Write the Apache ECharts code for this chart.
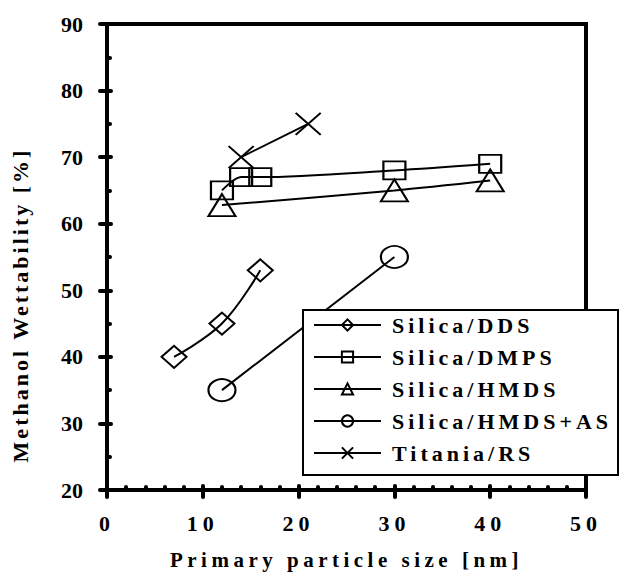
<!DOCTYPE html>
<html><head><meta charset="utf-8">
<script src="https://cdn.jsdelivr.net/npm/echarts@6/dist/echarts.min.js"></script>
<style>html,body{margin:0;padding:0;background:#fff}#c{width:621px;height:575px}</style>
</head><body><div id="c"></div>
<script>
// ---- data ----
const seriesNames = ['Silica/DDS', 'Silica/DMPS', 'Silica/HMDS', 'Silica/HMDS+AS', 'Titania/RS'];
const ddsX = [7, 12, 16];
const ddsY = [40, 45, 53];
const dmpsX = [12, 14, 16, 30, 40];
const dmpsY = [65, 67, 67, 68, 69];
const hmdsX = [12, 30, 40];
const hmdsY = [62.8, 65, 66.5];
const hmdsAsX = [12, 30];
const hmdsAsY = [35, 55];
const titaniaX = [14, 21];
const titaniaY = [70, 75];
const xTicks = [0, 10, 20, 30, 40, 50];
const yTicks = [20, 30, 40, 50, 60, 70, 80, 90];
const xName = 'Primary particle size [nm]';
const yName = 'Methanol Wettability [%]';

const FONT = 'Liberation Serif';
const chart = echarts.init(document.getElementById('c'), null, {renderer: 'svg'});

function mk(name, xs, ys, symbol, size, smooth) {
  return {
    name, type: 'line', data: xs.map((x, i) => [x, ys[i]]),
    symbol, symbolSize: size, smooth, showAllSymbol: true, symbolKeepAspect: false,
    lineStyle: {color: '#000', width: 2},
    itemStyle: {color: 'rgba(0,0,0,0)', borderColor: '#000', borderWidth: 2},
    emphasis: {disabled: true}, z: 2, xAxisIndex: 0, yAxisIndex: 0
  };
}
const xMarker = 'path://M0,0L10,10M10,0L0,10';
const tickStyle = {color: '#000', width: 4, cap: 'round'};
const lblStyle = {fontFamily: FONT, fontWeight: 'bold', fontSize: 22, color: '#000'};

chart.setOption({
  animation: false,
  backgroundColor: '#fff',
  grid: {left: 107, right: 35, top: 24, bottom: 79, show: true, borderColor: '#000', borderWidth: 4},
  xAxis: [
    {type: 'value', min: xTicks[0], max: xTicks[xTicks.length - 1], interval: xTicks[1] - xTicks[0], position: 'bottom',
     axisLine: {lineStyle: {color: '#000', width: 4}},
     axisTick: {inside: false, length: 7, lineStyle: tickStyle},
     axisLabel: Object.assign({margin: 22}, lblStyle),
     splitLine: {show: false},
     name: xName, nameLocation: 'middle', nameGap: 59,
     nameTextStyle: {fontFamily: FONT, fontWeight: 'bold', fontSize: 21, color: '#000'}},
    {type: 'value', min: xTicks[0], max: xTicks[xTicks.length - 1], interval: xTicks[1] - xTicks[0], position: 'bottom',
     axisLine: {show: false},
     axisTick: {inside: true, length: 4, lineStyle: tickStyle},
     minorTick: {show: true, splitNumber: 5, length: 3, lineStyle: tickStyle},
     axisLabel: {show: false}, splitLine: {show: false}}
  ],
  yAxis: [
    {type: 'value', min: yTicks[0], max: yTicks[yTicks.length - 1], interval: yTicks[1] - yTicks[0], position: 'left',
     axisLine: {show: true, lineStyle: {color: '#000', width: 4}},
     axisTick: {show: true, inside: false, length: 7, lineStyle: tickStyle},
     axisLabel: Object.assign({margin: 24}, lblStyle),
     splitLine: {show: false}},
    {type: 'value', min: yTicks[0], max: yTicks[yTicks.length - 1], interval: yTicks[1] - yTicks[0], position: 'left',
     axisLine: {show: false},
     axisTick: {show: true, inside: true, length: 4, lineStyle: tickStyle},
     minorTick: {show: true, splitNumber: 2, length: 3, lineStyle: tickStyle},
     axisLabel: {show: false}, splitLine: {show: false}}
  ],
  graphic: [
    {type: 'rect', z: 9, shape: {x: 303, y: 310, width: 315, height: 165},
     style: {fill: '#fff', stroke: '#000', lineWidth: 2}},
    {type: 'text', z: 10, x: 20, y: 305, rotation: Math.PI / 2,
     style: {text: yName, fontFamily: FONT, fontWeight: 'bold', fontSize: 22, fill: '#000', align: 'center', verticalAlign: 'middle'}}
  ],
  legend: {
    orient: 'vertical', left: 313, top: 314, itemWidth: 67, itemHeight: 14, itemGap: 10, padding: 0,
    selectedMode: false, z: 10, data: seriesNames,
    textStyle: {fontFamily: FONT, fontWeight: 'bold', fontSize: 22, lineHeight: 22, color: '#000', padding: [0, 0, 0, 6]}
  },
  series: [
    mk(seriesNames[0], ddsX, ddsY, 'diamond', [25, 22], 0.4),
    mk(seriesNames[1], dmpsX, dmpsY, 'rect', [22, 18], 0.3),
    mk(seriesNames[2], hmdsX, hmdsY, 'triangle', [27, 22], 0.3),
    mk(seriesNames[3], hmdsAsX, hmdsAsY, 'circle', [27, 22], false),
    mk(seriesNames[4], titaniaX, titaniaY, xMarker, [25, 22], false)
  ]
});

function applySpacing() {
  document.querySelectorAll('#c svg text').forEach(t => {
    const s = t.textContent.trim();
    const anchor = t.getAttribute('text-anchor') || t.style.textAnchor;
    if (seriesNames.includes(s)) t.setAttribute('letter-spacing', '4');
    else if (s === xName) t.setAttribute('letter-spacing', '4.5');
    else if (s === yName) t.setAttribute('letter-spacing', '3');
    else if (/^\d+$/.test(s) && anchor === 'middle') t.setAttribute('letter-spacing', '5');
  });
}
applySpacing();
chart.on('finished', applySpacing);
</script>
</body></html>
